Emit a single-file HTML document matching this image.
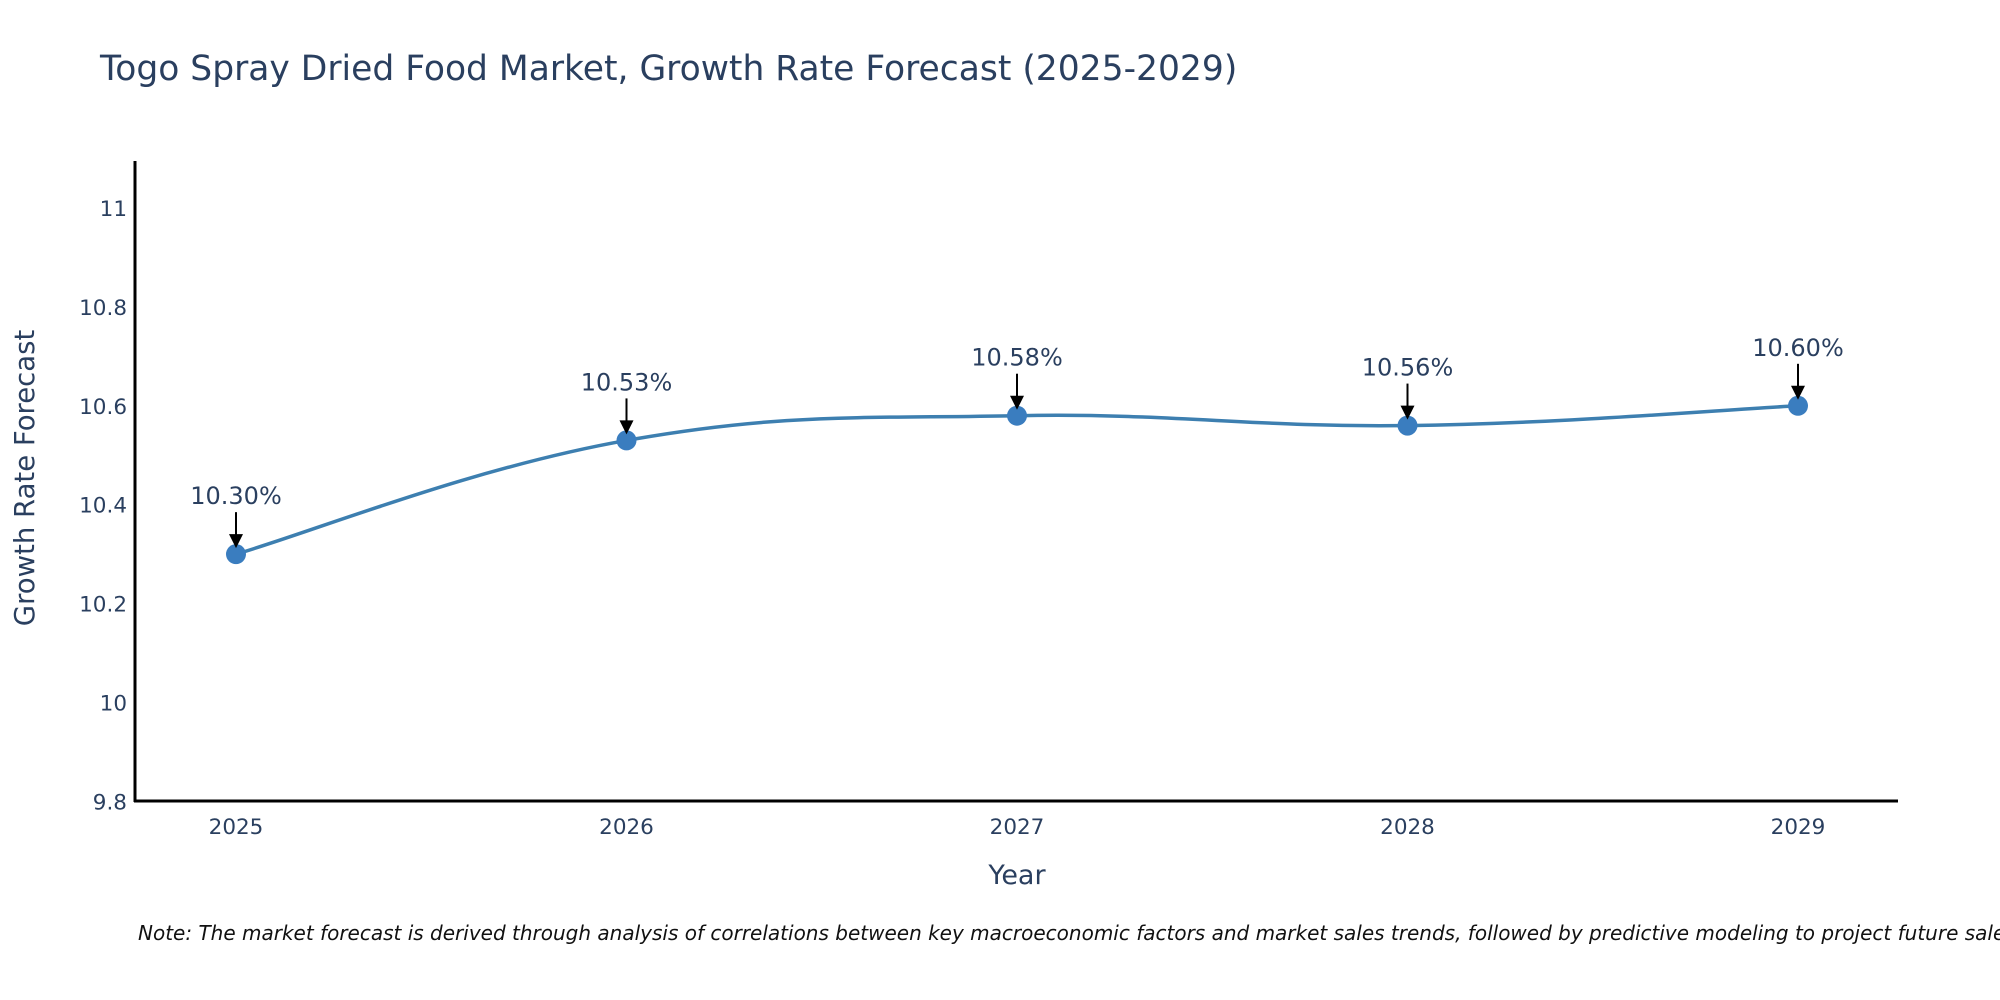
<!DOCTYPE html>
<html><head><meta charset="utf-8"><style>
html,body{margin:0;padding:0;background:#fff;}
svg{display:block;font-family:"DejaVu Sans","Liberation Sans",sans-serif;}
</style></head><body>
<svg id="chart" width="2000" height="1000" viewBox="0 0 2000 1000">
<text x="100" y="80" font-size="34.5" fill="#2a3f5f">Togo Spray Dried Food Market, Growth Rate Forecast (2025-2029)</text>
<g id="yticks"></g>
<g id="xticks"></g>
<path id="line" fill="none" stroke="#3d7fb0" stroke-width="3.5"/>
<g id="points"></g>
<g id="annots"></g>
<line x1="135" y1="161" x2="135" y2="802" stroke="#000" stroke-width="3"/>
<line x1="134" y1="801" x2="1898" y2="801" stroke="#000" stroke-width="3"/>
<text transform="translate(34,478) rotate(-90)" text-anchor="middle" font-size="27.5" fill="#2a3f5f">Growth Rate Forecast</text>
<text x="1017" y="884" text-anchor="middle" font-size="27" fill="#2a3f5f">Year</text>
<text x="138" y="940" font-size="20" font-style="italic" fill="#111">Note: The market forecast is derived through analysis of correlations between key macroeconomic factors and market sales trends, followed by predictive modeling to project future sales.</text>
</svg>
<script>
const years = [2025, 2026, 2027, 2028, 2029];
const rates = [10.30, 10.53, 10.58, 10.56, 10.60];
const labels = ["10.30%", "10.53%", "10.58%", "10.56%", "10.60%"];
const yTicks = [9.8, 10, 10.2, 10.4, 10.6, 10.8, 11];
const yTickLabels = ["9.8", "10", "10.2", "10.4", "10.6", "10.8", "11"];

const NS = "http://www.w3.org/2000/svg";
function X(v){ return 236 + (v - 2025) * 390.5; }
function Y(v){ return 208 + (11 - v) * 494.5; }
function mk(tag, attrs, parent){ const e=document.createElementNS(NS,tag); for(const k in attrs) e.setAttribute(k,attrs[k]); parent.appendChild(e); return e; }

const yt = document.getElementById('yticks');
yTicks.forEach((v,i)=>{
  const t = mk('text',{x:127,y:Y(v)+8,'text-anchor':'end','font-size':21.5,fill:'#2a3f5f'},yt);
  t.textContent = yTickLabels[i];
  
  
});
const xt = document.getElementById('xticks');
years.forEach(v=>{
  const t = mk('text',{x:X(v),y:834,'text-anchor':'middle','font-size':21.5,fill:'#2a3f5f'},xt);
  t.textContent = String(v);
  
  
});

const pts = years.map((y,i)=>[X(y),Y(rates[i])]);
let d = 'M' + pts[0][0] + ',' + pts[0][1];
const s = 0.2;
for(let i=0;i<pts.length-1;i++){
  const p0=pts[Math.max(0,i-1)], p1=pts[i], p2=pts[i+1], p3=pts[Math.min(pts.length-1,i+2)];
  const c1=[p1[0]+(p2[0]-p0[0])*s, p1[1]+(p2[1]-p0[1])*s];
  const c2=[p2[0]-(p3[0]-p1[0])*s, p2[1]-(p3[1]-p1[1])*s];
  d += ' C'+c1[0]+','+c1[1]+' '+c2[0]+','+c2[1]+' '+p2[0]+','+p2[1];
}
document.getElementById('line').setAttribute('d', d);

const pg = document.getElementById('points');
const ag = document.getElementById('annots');
pts.forEach((p,i)=>{
  const c = mk('circle',{cx:p[0],cy:p[1],r:10,fill:'#3a7dbf'},pg);
  
  
  const l = mk('line',{x1:p[0],y1:p[1]-42,x2:p[0],y2:p[1]-18,stroke:'#000','stroke-width':2},ag);
  
  
  const h = mk('polygon',{points:(p[0]-7)+','+(p[1]-20)+' '+(p[0]+7)+','+(p[1]-20)+' '+p[0]+','+(p[1]-6),fill:'#000'},ag);
  
  
  const t = mk('text',{x:p[0],y:p[1]-50,'text-anchor':'middle','font-size':24,fill:'#2a3f5f'},ag);
  t.textContent = labels[i];
  
  
});
</script>
</body></html>
